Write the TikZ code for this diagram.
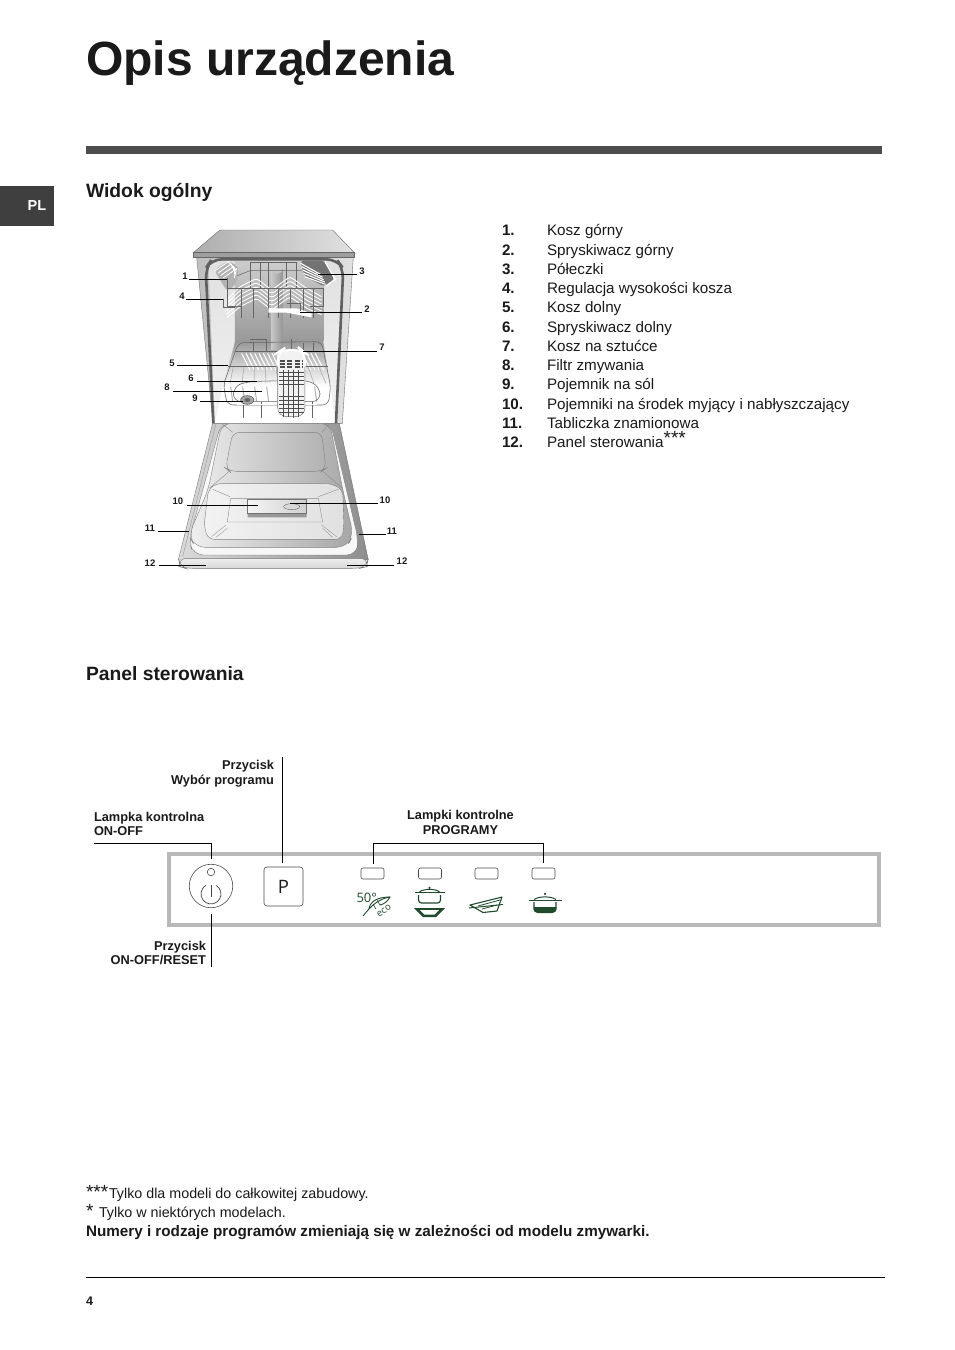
\documentclass[tikz,border=0pt]{standalone}
\usepackage{fontspec}
\setmainfont{Liberation Sans}
\newfontfamily\pfont{Open Sans}
\usetikzlibrary{calc}
\definecolor{bar}{HTML}{4D4D4D}
\definecolor{plbox}{HTML}{3F3F3F}
\definecolor{txt}{HTML}{1A1A1A}
\definecolor{panelgray}{HTML}{B9B9B9}
\definecolor{leaf}{HTML}{1F4A2C}
\definecolor{wire}{HTML}{666666}
\tikzset{
 every node/.style={inner sep=0pt,outer sep=0pt,text=txt},
 head/.style={font=\fontsize{19.3}{19.3}\selectfont\bfseries,anchor=base west},
 num/.style={font=\fontsize{15.2}{15.2}\selectfont\bfseries,anchor=base west},
 item/.style={font=\fontsize{15.2}{15.2}\selectfont,anchor=base west},
 tag/.style={font=\fontsize{9.5}{9.5}\selectfont\bfseries,anchor=center},
 lead/.style={draw=black,line width=0.8pt},
 plabel/.style={font=\fontsize{12.8}{12.8}\selectfont\bfseries},
 callout/.style={draw=black,line width=0.9pt},
 lamp/.style={draw=black!70,line width=0.6pt,rounded corners=2pt,fill=white},
 wwire/.style={draw=white,line width=0.9pt},
 dwire/.style={draw=wire,line width=0.55pt},
 icon/.style={draw=leaf,line width=1.2pt},
}
\begin{document}
\begin{tikzpicture}[x=1pt,y=-1pt]
\useasboundingbox (0,0) rectangle (954,1350);
\fill[white] (0,0) rectangle (954,1350);
% --- header
\node[font=\fontsize{48}{48}\selectfont\bfseries,anchor=base west] (title) at (86,75) {Opis urządzenia};
\fill[bar] (86,146) rectangle (882,154);
\fill[plbox] (0,186) rectangle (54,226);
\node[font=\fontsize{14.5}{14.5}\selectfont\bfseries,text=white] (pl) at (37,206) {PL};
\node[head] (h1) at (86,197) {Widok ogólny};
\node[head] (h2) at (86,680) {Panel sterowania};
% --- list
\foreach \n/\y/\t in {1/235/Kosz górny,2/255/Spryskiwacz górny,3/274/Półeczki,4/293/Regulacja wysokości kosza,5/312/Kosz dolny,6/332/Spryskiwacz dolny,7/351/Kosz na sztućce,8/370/Filtr zmywania,9/389/Pojemnik na sól,10/409/Pojemniki na środek myjący i nabłyszczający,11/428/Tabliczka znamionowa}{
 \node[num] (n\n) at (502,\y) {\n.};
 \node[item] (t\n) at (547,\y) {\t};
}
\node[num] (n12) at (502,447) {12.};
\node[item] (t12) at (547,447) {Panel sterowania\raisebox{3pt}{\fontsize{19}{19}\selectfont ***}};
% --- dishwasher: cabinet
\begin{scope}[shift={(140,220)},x=0.3333pt,y=-0.3333pt]
 % side panels
 \shade[left color=black!25,right color=black!12,draw=black!55,line width=0.4pt] (170,112) -- (640,112) -- (607,610) -- (219,610) -- cycle;
 % cavity
 \shade[top color=black!12,bottom color=black!5] (205,122) -- (605,122) -- (585,610) -- (225,610) -- cycle;
 \shade[top color=black!20,bottom color=black!40] (285,125) -- (550,125) -- (550,365) -- (285,365) -- cycle;
 \shade[top color=black!40,bottom color=white] (285,365) -- (550,365) -- (572,500) -- (248,500) -- cycle;
 \fill[white] (248,500) -- (572,500) -- (585,610) -- (225,610) -- cycle;
 % door seal
 \draw[draw=black!62,line width=2.6pt,rounded corners=10pt] (220,610) -- (197,145) -- (215,118) -- (590,118) -- (610,145) -- (588,610);
 % top
 \shade[left color=black!32,right color=black!12,draw=black!60,line width=0.4pt] (240,30) -- (578,30) -- (643,98) -- (160,98) -- cycle;
 \fill[black!38,draw=black!60,line width=0.4pt] (160,98) -- (643,98) -- (643,112) -- (160,112) -- cycle;
 % central tube
 \shade[left color=black!22,right color=black!42] (395,145) arc (180:0:17) -- (429,390) -- (395,390) -- cycle;
 % upper basket back wires
 \foreach \x in {330,360,385,440,470}{\draw[dwire] (\x,128) -- (\x,205);}
 \draw[dwire] (330,128) -- (470,128);
 \draw[dwire] (265,178) -- (330,152) -- (490,152) -- (545,180);
 % shelves
 \fill[black!30,rounded corners=4pt] (222,150) -- (265,122) -- (295,140) -- (290,190) -- (262,215) -- cycle;
 \foreach \k in {0,8,16,24}{
  \draw[wwire] ($(226,152)+(\k,\k*.9)$) -- ($(265,125)+(\k,\k*.9)$) -- ($(288,150)+(-\k*.2,\k)$);
 }
 \fill[black!55,rounded corners=4pt] (480,122) -- (555,122) -- (585,180) -- (555,200) -- (495,170) -- cycle;
 \foreach \k in {0,10,20,30,40}{
  \draw[wwire,line width=1.1pt] ($(482,130)+(\k*.3,\k)$) -- ($(545,165)+(\k*.3,\k*.7)$);
 }
 \draw[wwire,line width=1.3pt] (555,125) -- (585,178) -- (558,198);
 % upper basket zigzag wires
 \foreach \k in {0,12,24,36,48,60}{
  \draw[wwire,rounded corners=3pt] ($(260,240)+(0,\k*.9)$) -- ($(300,200)+(0,\k)$) -- ($(350,175)+(0,\k)$) -- ($(395,210)+(0,\k)$) -- ($(450,170)+(0,\k)$) -- ($(500,205)+(0,\k)$) -- ($(545,230)+(0,\k*.9)$);
 }
 \draw[dwire,line width=0.8pt] (262,175) -- (262,258) -- (305,258);
 \draw[dwire,line width=0.8pt] (262,205) -- (550,205) -- (550,258) -- (510,258);
 \draw[dwire] (250,238) -- (250,262) -- (285,262);
 \foreach \x in {305,340,385,415,450,490,520}{\draw[dwire] (\x,205) -- (\x,295);}
 % upper spray arm
 \fill[white] (385,265) -- (470,265) -- (515,280) -- (515,292) -- (440,278) -- (385,278) -- cycle;
 \draw[black!60,line width=0.5pt] (440,250) -- (480,250) -- (480,272);
 % lower basket
 \draw[dwire] (330,358) -- (380,358) -- (380,395);
 \draw[dwire] (455,358) -- (455,395);
 \foreach \x in {340,490,520}{\draw[dwire] (\x,370) -- (\x,395);}
 \foreach \k in {0,1,...,17}{
  \draw[draw=white,line width=1.1pt] ($(305,400)+(\k*13,0)$) -- ($(330,450)+(\k*13,0)$);
 }
 \foreach \k in {0,1,...,8}{
  \draw[draw=black!35,line width=0.5pt] ($(280,440)+(\k*32,0)$) -- ($(270,490)+(\k*36,0)$);
 }
 \foreach \k in {0,1,...,7}{
  \draw[draw=black!30,line width=1pt] ($(272,500)+(\k*36,0)$) -- ($(278,545)+(\k*36,0)$);
 }
 \draw[dwire,rounded corners=6pt] (295,368) -- (545,365) -- (572,500) -- (565,555) -- (262,555) -- (250,495) -- cycle;
 \draw[dwire] (265,440) -- (565,440);
 \draw[dwire] (285,395) -- (550,395);
 \draw[dwire,rounded corners=8pt] (280,500) -- (320,485) -- (500,480) -- (540,500) -- (540,545) -- (280,545) -- cycle;
 \foreach \x in {310,365,460,518}{\draw[dwire,line width=0.8pt] (\x,545) -- (\x,595);}
 \draw[draw=white,line width=1pt] (290,555) -- (530,555);
 % cutlery basket
 \fill[black!5,draw=black!55,line width=0.5pt,rounded corners=9pt] (413,590) -- (413,400) -- (425,390) -- (485,390) -- (495,400) -- (495,590) -- cycle;
 \draw[draw=white,line width=2pt,rounded corners=9pt] (413,440) -- (413,398) -- (425,390) -- (485,390) -- (495,398) -- (495,440);
 \foreach \yy in {422,432,442}{\draw[black!70,line width=1.8pt,dash pattern=on 5pt off 2.5pt] (420,\yy) -- (488,\yy);}
 \foreach \yy in {458,470,482,494,530,542,554,566,578}{\draw[black!70,line width=0.7pt] (417,\yy) -- (491,\yy);}
 \foreach \x in {430,445,460,475}{\draw[black!70,line width=0.7pt] (\x,450) -- (\x,590);}
 % salt container
 \draw[black!70,fill=black!35,line width=0.5pt] (322,540) ellipse (20 and 13);
 \fill[black!60] (322,540) ellipse (9 and 6);
\end{scope}
% --- door
\begin{scope}[shift={(140,400)},x=0.3333pt,y=-0.3333pt]
 \shade[left color=black!14,right color=black!45,draw=black!55,line width=0.4pt] (218,70) -- (598,70) -- (685,480) -- (115,480) -- cycle;
 \shade[top color=black!6,bottom color=black!16,draw=black!55,line width=0.4pt,rounded corners=8pt] (115,475) -- (685,475) -- (680,500) -- (660,505) -- (135,505) -- (120,500) -- cycle;
 \draw[black!40,line width=0.4pt] (228,70) -- (128,470);
 \draw[black!40,line width=0.4pt] (588,70) -- (672,470);
 % tub rim
 \fill[black!3,draw=black!50,line width=0.4pt,rounded corners=10pt] (243,70) -- (572,70) -- (655,420) -- (650,465) -- (160,465) -- (147,420) -- cycle;
 % tub
 \shade[left color=black!6,right color=black!35,draw=black!50,line width=0.4pt,rounded corners=10pt] (245,70) -- (570,70) -- (608,268) -- (640,405) -- (620,442) -- (165,442) -- (147,405) -- (205,268) -- cycle;
 \shade[left color=black!5,right color=black!12,draw=black!50,line width=0.4pt,rounded corners=6pt] (230,250) -- (205,268) -- (192,380) -- (205,418) -- (605,418) -- (612,380) -- (608,268) -- (570,250) -- cycle;
 % inner floor
 \shade[left color=black!14,right color=black!30,draw=black!50,line width=0.4pt,rounded corners=7pt] (278,97) -- (545,97) -- (558,205) -- (545,214) -- (268,214) -- (257,205) -- cycle;
 \draw[black!45,line width=0.4pt] (245,70) -- (278,97) (570,70) -- (545,97) (208,265) -- (268,214) (608,265) -- (548,214);
 \draw[black!45,line width=0.4pt] (218,268) -- (270,290) (595,268) -- (535,290);
 % dispenser well
 \draw[black!45,line width=0.4pt] (272,295) -- (535,295) -- (548,366) -- (262,366) -- cycle;
 \fill[black!40] (323,300) -- (498,300) -- (500,352) -- (323,352) -- cycle;
 \shade[left color=black!4,right color=black!18,draw=black!55,line width=0.4pt] (323,298) -- (498,298) -- (498,340) -- (323,340) -- cycle;
 \fill[black!15,draw=black!60,line width=0.4pt] (455,320) ellipse (24 and 9);
 \draw[black!40,line width=0.4pt] (215,410) -- (258,375) (228,412) -- (262,385) (545,375) -- (590,410) (548,385) -- (578,412);
\end{scope}
% --- diagram leaders: labels and their ends
\foreach \nm/\lx/\ly/\t/\ax/\ay/\bx/\by in {
 a/185/276/1/189/279/227/279,
 b/362/271/3/357/274/318/274,
 c/182/296/4/186/299/223/299,
 d/367/309/2/362/312/300/312,
 e/382/347/7/377/351/303/351,
 f/172/363/5/177/365/228/365,
 g/191/378/6/197/381/257/381,
 h/167/387/8/173/391/262/391,
 i/195/398/9/200/401/243/401,
 j/178/501/10/187/505/258/505,
 k/385/500/10/378/503/290/503,
 l/150/528/11/158/531/189/531,
 m/392/531/11/386/534/359/534,
 n/150/563/12/159/565/206/565,
 o/402/561/12/394/565/347/565}{
 \node[tag] (lab\nm) at (\lx,\ly) {\t};
 \coordinate (from\nm) at (\ax,\ay);
 \coordinate (to\nm) at (\bx,\by);
 \draw[lead] (from\nm) -- (to\nm);
}
% --- control panel
\draw[panelgray,line width=4pt] (169,854) rectangle (879,924.5);
\node[draw=black!70,line width=0.6pt,circle,minimum size=43.5pt] (onoff) at (211,886) {};
\node[draw=black!70,line width=0.6pt,circle,minimum size=7.5pt] (led) at (211,872) {};
\draw[black!75,line width=0.7pt] (216,885.3) arc[start angle=-60,end angle=240,radius=10];
\draw[black!75,line width=0.7pt] (211,885) -- (211,897);
\node[draw=black!70,line width=0.6pt,rounded corners=3pt,minimum width=39pt,minimum height=39pt] (pbtn) at (283.5,886.5) {};
\node[font=\pfont\fontsize{18.5}{18.5}\selectfont] (ptxt) at (283.5,886.5) {P};
\foreach \x/\nm in {372.5/l1,430/l2,486.5/l3,543.5/l4}{
 \node[lamp,minimum width=23pt,minimum height=11pt] (\nm) at (\x,873.5) {};
}
% callouts
\node[plabel,anchor=base east] (p1) at (274,769) {Przycisk};
\node[plabel,anchor=base east] (p2) at (274,784) {Wybór programu};
\coordinate (ptop) at (282.5,757);
\coordinate (pend) at (282.5,863);
\draw[callout] (ptop) -- (pend);
\node[plabel,anchor=base west] (q1) at (94,821) {Lampka kontrolna};
\node[plabel,anchor=base west] (q2) at (94,835) {ON-OFF};
\coordinate (qa) at (94,843.5);
\coordinate (qb) at (211.5,859);
\draw[callout] (qa) -| (qb);
\node[plabel,anchor=base east] (r1) at (206,950) {Przycisk};
\node[plabel,anchor=base east] (r2) at (206,964) {ON-OFF/RESET};
\coordinate (ra) at (211.5,914);
\coordinate (rb) at (211.5,967);
\draw[callout] (ra) -- (rb);
\node[plabel,anchor=base] (s1) at (460.5,819) {Lampki kontrolne};
\node[plabel,anchor=base] (s2) at (460.5,834) {PROGRAMY};
\coordinate (sa) at (373.5,863.5);
\coordinate (sb) at (543.5,862.5);
\draw[callout] (sa) -- (373.5,843.5) -- (543.5,843.5) -- (sb);
% --- icons
\node[font=\pfont\fontsize{13}{13}\selectfont,text=leaf,anchor=base west] (i50) at (356.5,902) {50°};
\draw[leaf,line width=0.9pt] (363,916) .. controls (371,906) and (378,899) .. (390,897);
\draw[leaf,line width=0.9pt] (369,909) .. controls (370,900) and (380,897) .. (390,897) .. controls (387,902) and (384,904) .. (380,905);
\draw[leaf,line width=0.6pt] (373,904) -- (376,909) (377,900) -- (380,905);
\node[font=\pfont\fontsize{9.5}{9.5}\selectfont,text=leaf,rotate=35] (ieco) at (384,911) {eco};
% icon 2
\draw[icon] (414.5,892.8) -- (444.5,892.8);
\draw[leaf,line width=1pt] (419.5,892) .. controls (423,888.5) and (436,888.5) .. (439.5,892);
\fill[leaf] (429.5,887.8) circle (1.2);
\draw[icon] (418.5,895) -- (418.5,900) arc[start angle=180,end angle=90,radius=3] -- (437.5,903) arc[start angle=90,end angle=0,radius=3] -- (440.5,895);
\fill[leaf] (414,908) -- (445,908) -- (436,917) -- (423,917) -- cycle;
\fill[white] (420,910) -- (439,910) -- (434.5,914.5) -- (424.5,914.5) -- cycle;
% icon 3
\draw[leaf,line width=1.1pt,line join=round] (470,905) -- (502,897) -- (497,911) -- (483,912.5) -- cycle;
\draw[leaf,line width=0.8pt] (478,906) -- (500,900) (482,909) -- (497,905);
\draw[leaf,line width=1pt] (469,908) -- (503,904.5);
% icon 4
\draw[icon] (528.5,900.3) -- (562,900.3);
\draw[leaf,line width=1pt] (534,899.5) .. controls (539,896) and (551,896) .. (556,899.5);
\fill[leaf] (545,893.8) circle (1.2);
\draw[icon] (534,902) -- (534,909) arc[start angle=180,end angle=90,radius=3] -- (553,912) arc[start angle=90,end angle=0,radius=3] -- (556,902);
\fill[leaf] (534,907) -- (556,907) -- (556,909) arc[start angle=0,end angle=90,radius=4] -- (538,913) arc[start angle=90,end angle=180,radius=4] -- cycle;
% --- footer
\node[font=\fontsize{19}{19}\selectfont,anchor=base west] (st1) at (86,1198) {***};
\node[font=\fontsize{14.3}{14.3}\selectfont,anchor=base west] (f1) at (109,1198) {Tylko dla modeli do całkowitej zabudowy.};
\node[font=\fontsize{19}{19}\selectfont,anchor=base west] (st2) at (86,1217) {*};
\node[font=\fontsize{14.3}{14.3}\selectfont,anchor=base west] (f2) at (99,1217) {Tylko w niektórych modelach.};
\node[font=\fontsize{15.25}{15.25}\selectfont\bfseries,anchor=base west] (f3) at (86,1236) {Numery i rodzaje programów zmieniają się w zależności od modelu zmywarki.};
\draw[black,line width=0.8pt] (86,1277) -- (885,1277);
\node[font=\fontsize{12.5}{12.5}\selectfont\bfseries,anchor=base west] (pg) at (86,1305) {4};
\end{tikzpicture}
\end{document}
